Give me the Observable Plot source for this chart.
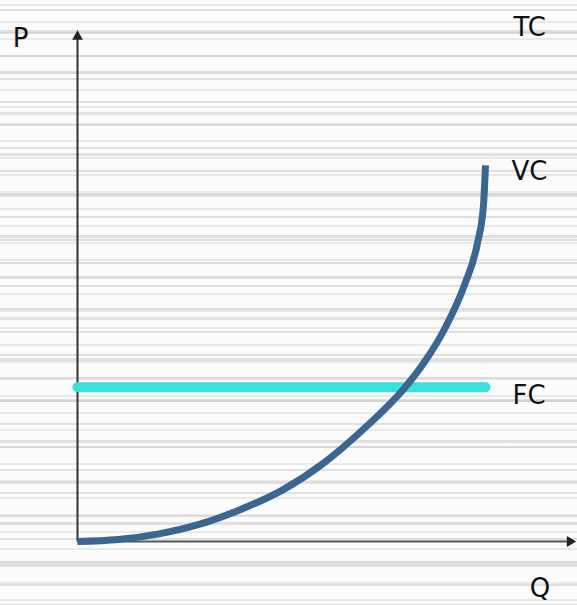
<!DOCTYPE html>
<html>
<head>
<meta charset="utf-8">
<script src="https://cdn.jsdelivr.net/npm/d3@7"></script>
<script src="https://cdn.jsdelivr.net/npm/@observablehq/plot@0.6"></script>
<style>
  html, body { margin: 0; padding: 0; }
  body {
    width: 577px; height: 605px; overflow: hidden;
    background-color: #fbfbfb;
    background-image:
      repeating-linear-gradient(to bottom, transparent 0px, transparent 9px, rgba(200,200,200,0.55) 9px, rgba(200,200,200,0.55) 11px, transparent 11px, transparent 23px),
      repeating-linear-gradient(to bottom, transparent 0px, transparent 4px, rgba(215,215,215,0.5) 4px, rgba(215,215,215,0.5) 6px, transparent 6px, transparent 17px),
      repeating-linear-gradient(to bottom, transparent 0px, transparent 30px, rgba(190,190,190,0.45) 30px, rgba(190,190,190,0.45) 33px, transparent 33px, transparent 41px);
  }
  #chart svg { display: block; background: transparent; }
</style>
</head>
<body>
<div id="chart"></div>
<script>
// Quantity values and the variable cost curve
const quantity = [0, 1, 2, 3, 4, 5, 6, 7, 8, 8.5, 9, 9.5, 9.8, 9.95, 10];
const variableCost = [0, 0.04, 0.15, 0.34, 0.63, 1.0, 1.52, 2.2, 3.0, 3.52, 4.18, 5.07, 5.85, 6.6, 7.39];
// Fixed cost level
const fixedCost = 3.03;
// Axis labels and series labels
const axisLabels = ["P", "Q"];
const seriesLabels = ["TC", "VC", "FC"];

const vcData = quantity.map((q, i) => ({q, c: variableCost[i]}));
const fcData = [{q: 0, c: fixedCost}, {q: 10, c: fixedCost}];
const qMax = d3.max(quantity);
const vcEnd = variableCost[variableCost.length - 1];

const chart = Plot.plot({
  width: 577,
  height: 605,
  marginLeft: 77,
  marginRight: 92,
  marginTop: 32,
  marginBottom: 64,
  style: {background: "transparent", fontFamily: "DejaVu Sans, sans-serif"},
  x: {domain: [0, 10], axis: null},
  y: {domain: [0, 10], axis: null},
  marks: [
    // axes
    Plot.link([{x1: 0, y1: 0, x2: 0, y2: 9.9}], {x1: "x1", y1: "y1", x2: "x2", y2: "y2", stroke: "#333", strokeWidth: 2, clip: false}),
    Plot.link([{x1: 0, y1: 0, x2: 12.05, y2: 0}], {x1: "x1", y1: "y1", x2: "x2", y2: "y2", stroke: "#555", strokeWidth: 2, clip: false}),
    Plot.dot([{x: 0, y: 9.92}], {x: "x", y: "y", symbol: "triangle", r: 4, fill: "#222", stroke: "none"}),
    Plot.dot([{x: 12.07, y: 0}], {x: "x", y: "y", symbol: "triangle", r: 4, fill: "#222", stroke: "none", rotate: 90}),
    // fixed cost
    Plot.line(fcData, {x: "q", y: "c", stroke: "#3ddede", strokeWidth: 10}),
    // variable cost
    Plot.line(vcData, {x: "q", y: "c", stroke: "#3a6690", strokeWidth: 7, curve: "monotone-x", strokeLinecap: "butt"}),
    // series labels
    Plot.text([seriesLabels[0]], {x: qMax, y: 10, text: d => d, dx: 28, dy: -5, fontSize: 26, fill: "#111", textAnchor: "start"}),
    Plot.text([seriesLabels[1]], {x: qMax, y: vcEnd, text: d => d, dx: 26, dy: 6, fontSize: 26, fill: "#111", textAnchor: "start"}),
    Plot.text([seriesLabels[2]], {x: qMax, y: fixedCost, text: d => d, dx: 27, dy: 8, fontSize: 26, fill: "#111", textAnchor: "start"}),
    // axis labels
    Plot.text([axisLabels[0]], {x: 0, y: 10, text: d => d, dx: -57, dy: 6, fontSize: 26, fill: "#111"}),
    Plot.text([axisLabels[1]], {x: 12.07, y: 0, text: d => d, dx: -30, dy: 47, fontSize: 26, fill: "#111"})
  ]
});
document.getElementById("chart").append(chart);
</script>
</body>
</html>
